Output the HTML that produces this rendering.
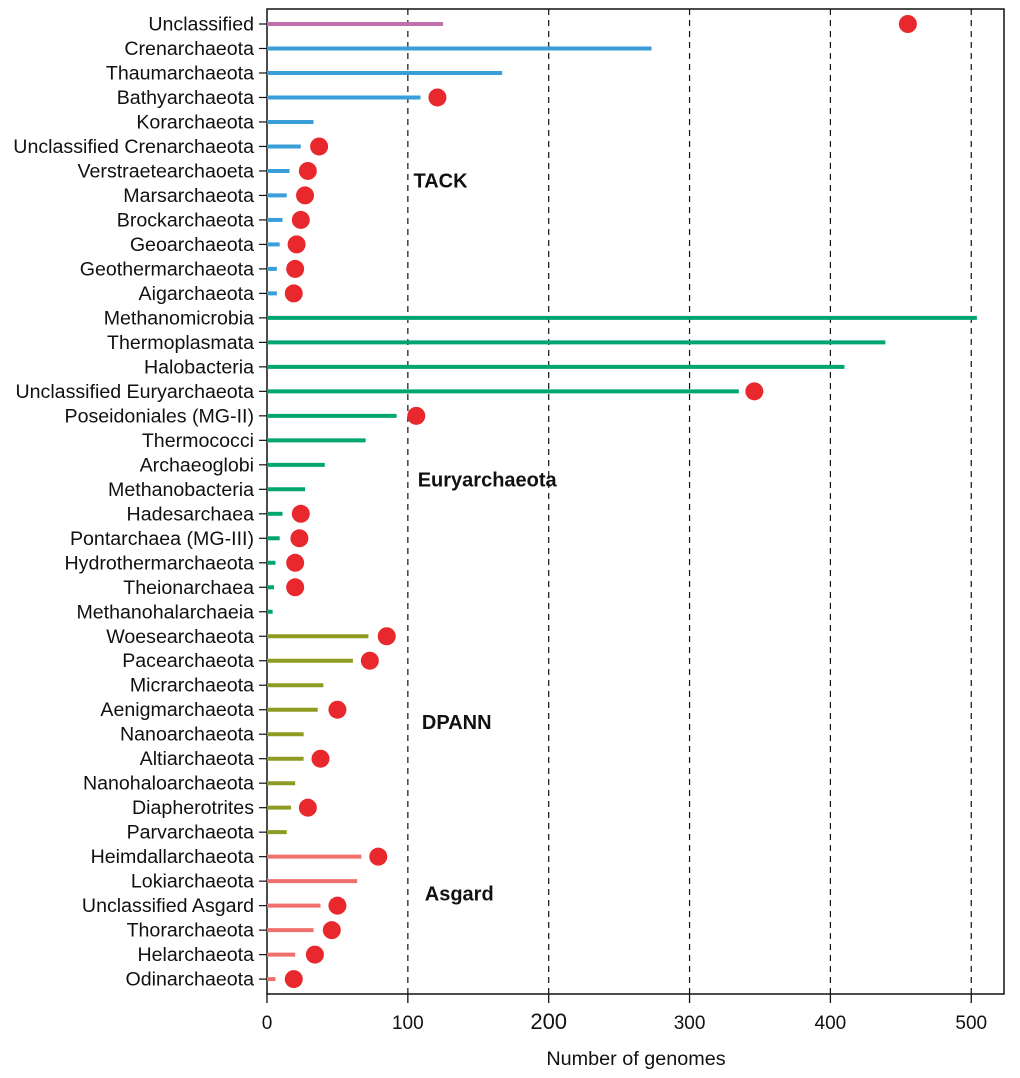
<!DOCTYPE html>
<html><head><meta charset="utf-8"><style>body{margin:0;background:#fff}svg{display:block}text{font-family:"Liberation Sans",sans-serif;fill:#111}</style></head>
<body>
<svg id="c" width="1020" height="1078"></svg>
<script>
const categories=["Unclassified","Crenarchaeota","Thaumarchaeota","Bathyarchaeota","Korarchaeota","Unclassified Crenarchaeota","Verstraetearchaoeta","Marsarchaeota","Brockarchaeota","Geoarchaeota","Geothermarchaeota","Aigarchaeota","Methanomicrobia","Thermoplasmata","Halobacteria","Unclassified Euryarchaeota","Poseidoniales (MG-II)","Thermococci","Archaeoglobi","Methanobacteria","Hadesarchaea","Pontarchaea (MG-III)","Hydrothermarchaeota","Theionarchaea","Methanohalarchaeia","Woesearchaeota","Pacearchaeota","Micrarchaeota","Aenigmarchaeota","Nanoarchaeota","Altiarchaeota","Nanohaloarchaeota","Diapherotrites","Parvarchaeota","Heimdallarchaeota","Lokiarchaeota","Unclassified Asgard","Thorarchaeota","Helarchaeota","Odinarchaeota"];
const barValues=[125,273,167,109,33,24,16,14,11,9,7,7,504,439,410,335,92,70,41,27,11,9,6,5,4,72,61,40,36,26,26,20,17,14,67,64,38,33,20,6];
const dotValues=[455,null,null,121,null,37,29,27,24,21,20,19,null,null,null,346,106,null,null,null,24,23,20,20,null,85,73,null,50,null,38,null,29,null,79,null,50,46,34,19];
const groups=["Unclassified","TACK","TACK","TACK","TACK","TACK","TACK","TACK","TACK","TACK","TACK","TACK","Euryarchaeota","Euryarchaeota","Euryarchaeota","Euryarchaeota","Euryarchaeota","Euryarchaeota","Euryarchaeota","Euryarchaeota","Euryarchaeota","Euryarchaeota","Euryarchaeota","Euryarchaeota","Euryarchaeota","DPANN","DPANN","DPANN","DPANN","DPANN","DPANN","DPANN","DPANN","DPANN","Asgard","Asgard","Asgard","Asgard","Asgard","Asgard"];
const xTicks=[0,100,200,300,400,500];
const groupLabels=["TACK","Euryarchaeota","DPANN","Asgard"];
const groupLabelRows=[6.4,18.6,28.5,35.5];
const groupLabelX=[104,107,110,112];
const colors={Unclassified:"#bd72ad",TACK:"#3a9fd8",Euryarchaeota:"#00a571",DPANN:"#8d9b22",Asgard:"#ee6f6c"};
const svg=document.getElementById('c');const NS="http://www.w3.org/2000/svg";
const L=267,R=1004,T=9,B=994;
const x=v=>L+v*1.4085;
const y=i=>24+i*24.49;
function mk(t,a,p){const e=document.createElementNS(NS,t);for(const k in a)e.setAttribute(k,a[k]);(p||svg).appendChild(e);return e;}
xTicks.forEach((t,i)=>{if(t>0){const g=mk('line',{x1:x(t),x2:x(t),y1:T,y2:B,stroke:'#111','stroke-width':1.2,'stroke-dasharray':'6,5'});}
const tk=mk('line',{x1:x(t),x2:x(t),y1:B,y2:B+9,stroke:'#111','stroke-width':1.3});
const tl=mk('text',{x:x(t),y:1029,'text-anchor':'middle','font-size':t==200?22:19});tl.textContent=t;});
const box=mk('rect',{x:L,y:T,width:R-L,height:B-T,fill:'none',stroke:'#111','stroke-width':1.5});
categories.forEach((c,i)=>{const yy=y(i);
const tk=mk('line',{x1:L-8,x2:L,y1:yy,y2:yy,stroke:'#111','stroke-width':1.2});
const lb=mk('text',{x:254,y:yy+6.5,'text-anchor':'end','font-size':19.6});lb.textContent=c;
const b=mk('line',{x1:L,x2:x(barValues[i]),y1:yy,y2:yy,stroke:colors[groups[i]],'stroke-width':4});
if(dotValues[i]!=null){const d=mk('circle',{cx:x(dotValues[i]),cy:yy,r:9,fill:'#e8282d'});}});
groupLabels.forEach((g,i)=>{const t=mk('text',{x:x(groupLabelX[i]),y:y(groupLabelRows[i])+7,'font-size':20,'font-weight':'bold'});t.textContent=g;});
const xt=mk('text',{x:636,y:1065,'text-anchor':'middle','font-size':19.8});xt.textContent="Number of genomes";
</script>
</body></html>
